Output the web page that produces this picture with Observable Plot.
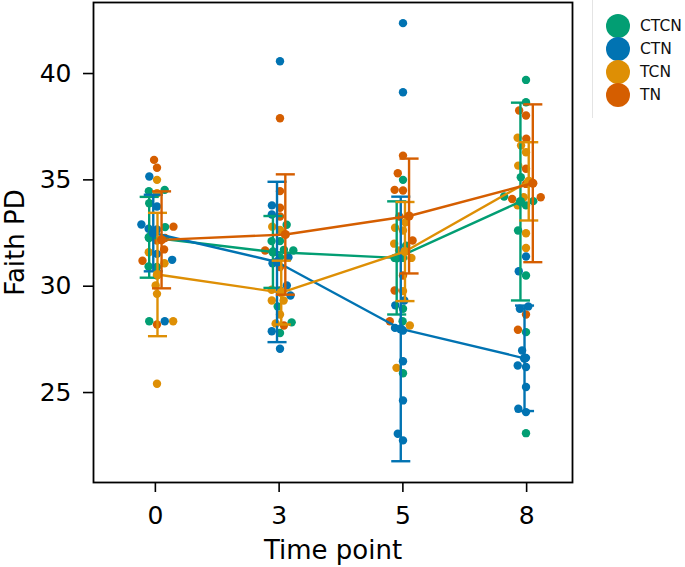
<!DOCTYPE html>
<html>
<head>
<meta charset="utf-8">
<script src="https://cdn.jsdelivr.net/npm/d3@7"></script>
<script src="https://cdn.jsdelivr.net/npm/@observablehq/plot@0.6"></script>
<style>
  html, body { margin: 0; padding: 0; background: white; }
  #wrap { position: relative; width: 685px; height: 567px; font-family: "DejaVu Sans", sans-serif; }
  #wrap svg { position: absolute; left: 0; top: 0; }
  #legend { position: absolute; left: 592px; top: -2px; width: 100px; height: 120px; border-left: 1px solid #e4e4e4; }
  .row { position: absolute; left: 13px; height: 23px; display: flex; align-items: center; }
  .sw { width: 24px; height: 24px; border-radius: 50%; }
  .lb { margin-left: 10px; font-size: 15.5px; color: #111; }
</style>
</head>
<body>
<div id="wrap"></div>
<script>
// ---- data ----
const times = ["0", "3", "5", "8"];
const groups = ["CTCN", "CTN", "TCN", "TN"];
const yTicks = [25, 30, 35, 40];

// observed Faith PD values, one list per time point (0, 3, 5, 8)
const CTCN = [
  [34.47, 34.53, 33.9, 32.78, 32.27, 30.93, 30.9, 28.35],
  [32.89, 32.12, 32.12, 31.68, 31.36, 31.6, 31.71, 29.05, 28.3, 27.8],
  [35.0, 31.9, 31.33, 31.33, 28.94, 28.35, 25.91],
  [39.7, 38.65, 35.12, 34.22, 34.0, 33.8, 32.62, 30.5, 27.84, 23.09]
];
const CTN = [
  [35.16, 33.75, 32.9, 32.7, 32.67, 31.52, 31.24, 28.35],
  [40.58, 33.8, 33.37, 31.36, 31.08, 30.03, 29.56, 27.88, 27.06],
  [42.37, 39.12, 29.33, 29.1, 28.04, 27.92, 26.47, 24.63, 23.06, 22.75],
  [31.4, 30.7, 29.05, 28.94, 26.98, 26.63, 26.27, 26.2, 25.26, 24.24, 24.08]
];
const TCN = [
  [35.0, 34.37, 31.6, 31.08, 30.5, 30.03, 29.64, 28.35, 25.41],
  [32.8, 32.65, 29.83, 29.33, 29.33, 28.67, 28.25],
  [33.0, 32.75, 32.62, 32.0, 31.68, 31.33, 29.77, 28.15, 26.16],
  [36.98, 36.62, 36.3, 35.67, 34.18, 33.8, 32.49, 31.8]
];
const TN = [
  [35.94, 35.57, 32.8, 32.27, 32.15, 31.73, 31.2, 28.2],
  [37.9, 34.47, 33.69, 33.28, 31.68, 30.9, 29.8, 28.15],
  [36.14, 35.31, 34.53, 34.5, 33.28, 32.15, 30.5, 29.8, 28.35],
  [38.26, 38.03, 36.93, 35.52, 34.81, 34.18, 34.1, 28.67, 27.95]
];

// group means and standard deviations per time point
const meanCTCN = [32.3, 31.61, 31.33, 33.98];
const sdCTCN   = [1.9, 1.69, 2.66, 4.65];
const meanCTN  = [32.5, 31.14, 27.99, 26.61];
const sdCTN    = [1.8, 3.77, 6.22, 2.48];
const meanTCN  = [30.55, 29.7, 31.63, 34.93];
const sdTCN    = [2.9, 1.5, 2.33, 1.84];
const meanTN   = [32.18, 32.43, 33.3, 34.84];
const sdTN     = [2.28, 2.83, 2.7, 3.71];

// ---- styling ----
const palette = ["#029e73", "#0173b2", "#de8f05", "#d55e00"];
const hueOffset = [-0.05, -0.017, 0.017, 0.05]; // pointplot dodge (category units)
const capHalf = 0.077;
const W = 685, H = 567;
const mTop = 2, mBottom = 85, mLeft = 93;
const yDomain = [20.77, 43.34];

const values = {CTCN, CTN, TCN, TN};
const means = {CTCN: meanCTCN, CTN: meanCTN, TCN: meanTCN, TN: meanTN};
const sds = {CTCN: sdCTCN, CTN: sdCTN, TCN: sdTCN, TN: sdTN};

const pts = [];
groups.forEach(g => values[g].forEach((list, i) => list.forEach(v => pts.push({t: times[i], g, v}))));
pts.sort((a, b) => a.v - b.v);

const stats = [];
groups.forEach((g, k) => times.forEach((t, i) => stats.push({
  g, xp: i + hueOffset[k], m: means[g][i], lo: means[g][i] - sds[g][i], hi: means[g][i] + sds[g][i]
})));

const bandW = 123.75;
const color = {domain: groups, range: palette};

// swarm layer (faceted by time point)
const swarm = Plot.plot({
  width: W, height: H,
  marginLeft: mLeft, marginRight: W - mLeft - 4 * bandW, marginTop: mTop, marginBottom: mBottom,
  facet: {data: pts, x: "t"},
  fx: {domain: times, padding: 0, axis: null},
  y: {domain: yDomain, axis: null},
  color,
  marks: [
    Plot.dot(pts, Plot.dodgeX({anchor: "middle", padding: 0}, {y: "v", fill: "g", r: 4.2}))
  ]
});

// summary layer with axes
const xMax = (W - 113 - mLeft) / bandW - 0.5;
const summaryMarks = [];
groups.forEach(g => {
  const d = stats.filter(s => s.g === g);
  summaryMarks.push(
    Plot.line(d, {x: "xp", y: "m", stroke: "g", strokeWidth: 2.4}),
    Plot.ruleX(d, {x: "xp", y1: "lo", y2: "hi", stroke: "g", strokeWidth: 2.4}),
    Plot.link(d, {x1: s => s.xp - capHalf, x2: s => s.xp + capHalf, y1: "hi", y2: "hi", stroke: "g", strokeWidth: 2.4}),
    Plot.link(d, {x1: s => s.xp - capHalf, x2: s => s.xp + capHalf, y1: "lo", y2: "lo", stroke: "g", strokeWidth: 2.4}),
    Plot.dot(d, {x: "xp", y: "m", fill: "g", r: 4.6})
  );
});

const summary = Plot.plot({
  width: W, height: H,
  marginLeft: mLeft, marginRight: 113, marginTop: mTop, marginBottom: mBottom,
  style: {background: "transparent", fontFamily: "DejaVu Sans", color: "black", overflow: "visible"},
  x: {domain: [-0.5, xMax], label: null},
  y: {domain: yDomain, label: null},
  color,
  marks: [
    ...summaryMarks,
    Plot.axisY({ticks: yTicks, tickSize: 10, tickPadding: 12, tickFormat: d => String(d), fontSize: 25,
      strokeWidth: 1.6, label: null}),
    Plot.axisY({ticks: [], label: "Faith PD", labelAnchor: "center", labelArrow: "none", labelOffset: 88, fontSize: 26}),
    Plot.axisX({ticks: [0, 1, 2, 3], tickSize: 10, tickPadding: 14, tickFormat: i => times[i], fontSize: 25,
      strokeWidth: 1.6, label: null}),
    Plot.axisX({ticks: [], label: "Time point", labelAnchor: "center", labelArrow: "none", labelOffset: 76, fontSize: 26}),
    Plot.frame({stroke: "black", strokeWidth: 1.8})
  ]
});

const wrap = document.getElementById("wrap");
wrap.appendChild(swarm);
wrap.appendChild(summary);

// legend
const legend = document.createElement("div");
legend.id = "legend";
groups.forEach((g, k) => {
  const row = document.createElement("div");
  row.className = "row";
  row.style.top = (16.5 + k * 23) + "px";
  row.innerHTML = `<div class="sw" style="background:${palette[k]}"></div><div class="lb">${g}</div>`;
  legend.appendChild(row);
});
wrap.appendChild(legend);
</script>
</body>
</html>
